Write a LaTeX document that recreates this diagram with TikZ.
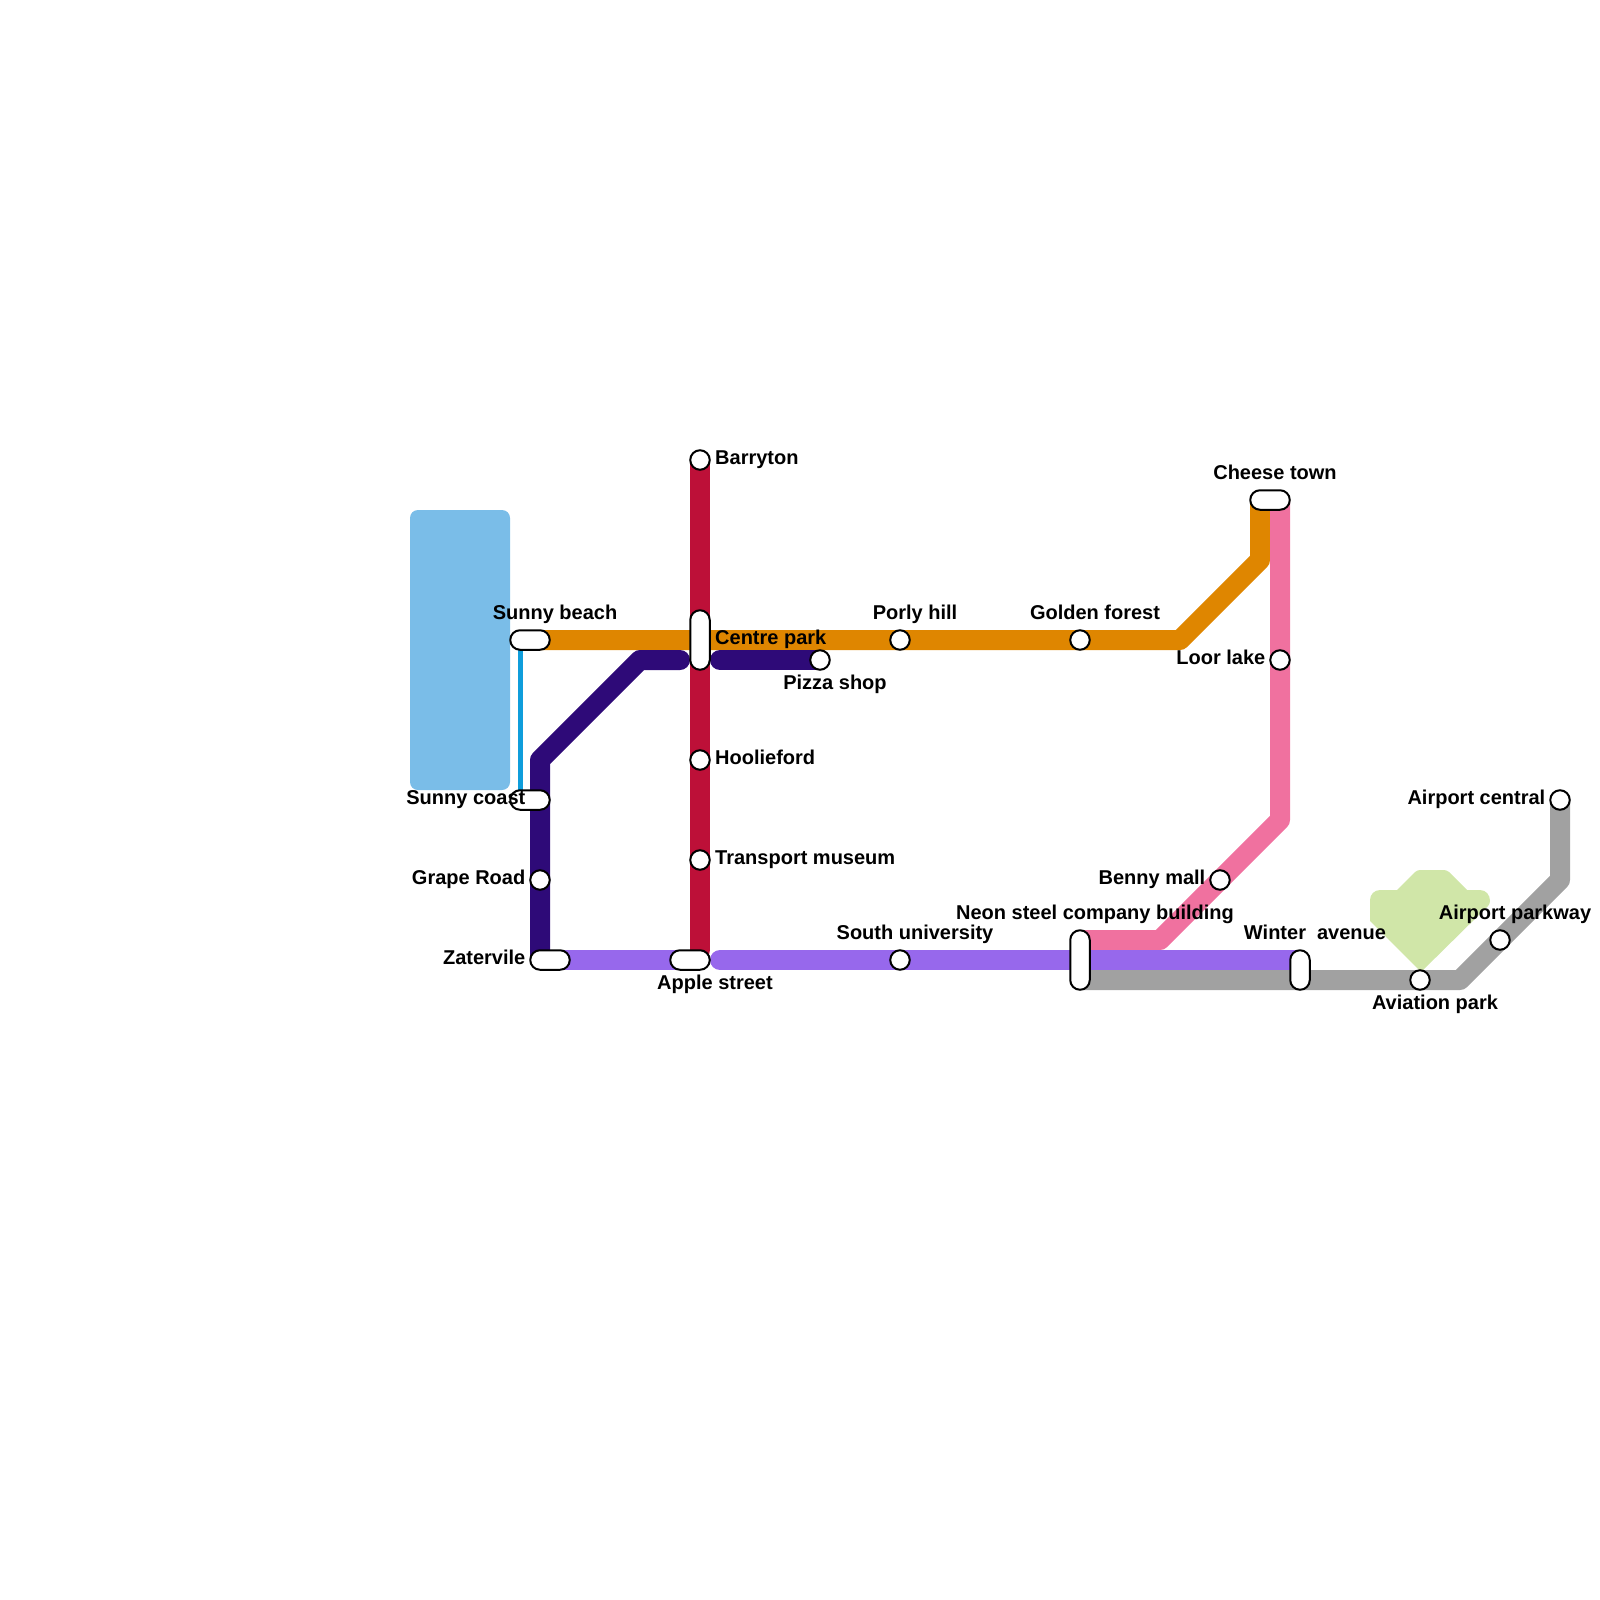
\documentclass[tikz,border=0pt]{standalone}
\usepackage{fontspec}
\setmainfont{Liberation Sans}
\usetikzlibrary{backgrounds}
\definecolor{lakeblue}{HTML}{7ABDE8}
\definecolor{parkgreen}{HTML}{D0E6A8}
\definecolor{cyanline}{HTML}{0F9DDB}
\definecolor{orangeline}{HTML}{DF8600}
\definecolor{redline}{HTML}{BD1038}
\definecolor{darkline}{HTML}{2E0A78}
\definecolor{purpleline}{HTML}{9768EC}
\definecolor{pinkline}{HTML}{F0719F}
\definecolor{greyline}{HTML}{A1A1A1}
\tikzset{
  x=1pt,y=-1pt,
  route/.style={line width=20pt,line cap=round,line join=round},
  stop/.style={circle,draw=black,fill=white,line width=2pt,minimum size=19.5pt,inner sep=0pt},
  pillh/.style={rectangle,rounded corners=9.7pt,draw=black,fill=white,line width=2pt,minimum width=39.5pt,minimum height=19.5pt,inner sep=0pt},
  pillv/.style={pillh,minimum width=19.5pt,minimum height=#1},
  lbl/.style={font=\fontsize{20}{24}\selectfont\bfseries,inner sep=0pt,text=black,yshift=0.3pt},
  lblc/.style={lbl,anchor=base},
  lbll/.style={lbl,anchor=base west},
  lblr/.style={lbl,anchor=base east}
}
\begin{document}
\begin{tikzpicture}
\useasboundingbox (0,0) rectangle (1600,1600);
% stations
\node[pillh] (sunnybeach) at (530,640) {};
\node[pillh] (sunnycoast) at (530,800) {};
\node[pillh] (zatervile) at (550,960) {};
\node[pillh] (apple) at (690,960) {};
\node[pillh] (cheese) at (1270,500) {};
\node[pillv=59.5pt] (centre) at (700,640) {};
\node[pillv=59.5pt] (neon) at (1080,960) {};
\node[pillv=39.5pt] (winter) at (1300,970) {};
\node[stop] (barryton) at (700,460) {};
\node[stop] (hoolieford) at (700,760) {};
\node[stop] (transport) at (700,860) {};
\node[stop] (grape) at (540,880) {};
\node[stop] (pizza) at (820,660) {};
\node[stop] (porly) at (900,640) {};
\node[stop] (golden) at (1080,640) {};
\node[stop] (loor) at (1280,660) {};
\node[stop] (benny) at (1220,880) {};
\node[stop] (south) at (900,960) {};
\node[stop] (aviation) at (1420,980) {};
\node[stop] (parkway) at (1500,940) {};
\node[stop] (central) at (1560,800) {};
\coordinate (cyantop) at (520,640);
\coordinate (cyanend) at (520,800);
\coordinate (redend) at (700,950);
\coordinate (purplestart) at (720,960);
\coordinate (purpleend) at (1300,960);
\coordinate (pinkend) at (1080,940);
\coordinate (greystart) at (1080,980);
\coordinate (darkstart) at (540,960);
\coordinate (darkend) at (680,660);
\coordinate (darkstart2) at (720,660);
\begin{scope}[on background layer]
  \fill[lakeblue,rounded corners=8pt] (410,510) rectangle (510,790);
  \fill[parkgreen]
    (1421,972) -- (1370,921) [rounded corners=10pt] -- (1370,890) [sharp corners] -- (1397,890) [rounded corners=3pt] -- (1417,870) -- (1447,870) [sharp corners] -- (1467,890) -- (1480,890) .. controls (1486,890) and (1490,895) .. (1490,901) .. controls (1490,903) and (1489,905) .. (1488,906) -- cycle;
  \draw[cyanline,line width=5pt] (cyantop) -- (cyanend);
  \draw[route,orangeline] (sunnybeach.center) -- (golden.center) -- (1180,640) -- (1260,560) -- (1260,500);
  \draw[route,pinkline] (1280,500) -- (1280,820) -- (1160,940) -- (pinkend);
  \draw[route,greyline] (greystart) -- (1460,980) -- (1560,880) -- (central.center);
  \draw[route,purpleline] (zatervile.center) -- (apple.center);
  \draw[route,purpleline] (purplestart) -- (purpleend);
  \draw[route,redline] (barryton.center) -- (redend);
  \draw[route,darkline] (darkstart) -- (540,760) -- (640,660) -- (darkend);
  \draw[route,darkline] (darkstart2) -- (pizza.center);
\end{scope}
% labels
\node[lblc] (l1) at (555,620) {Sunny beach};
\node[lblr] (l2) at (525.5,805) {Sunny coast};
\node[lblr] (l3) at (525.5,885) {Grape Road};
\node[lblr] (l4) at (525.5,965) {Zatervile};
\node[lblc] (l5) at (715,990) {Apple street};
\node[lbll] (l6) at (715,465) {Barryton};
\node[lbll] (l7) at (715,645) {Centre park};
\node[lbll] (l8) at (715,765) {Hoolieford};
\node[lbll] (l9) at (715,865) {Transport museum};
\node[lblc] (l10) at (835,690) {Pizza shop};
\node[lblc] (l11) at (915,620) {Porly hill};
\node[lblc] (l12) at (1095,620) {Golden forest};
\node[lblc] (l13) at (915,940) {South university};
\node[lblc] (l14) at (1095,920) {Neon steel company building};
\node[lblc] (l15) at (1275,480) {Cheese town};
\node[lblr] (l16) at (1265.5,665) {Loor lake};
\node[lblr] (l17) at (1205.5,885) {Benny mall};
\node[lblc] (l18) at (1315,940) {Winter\ \ avenue};
\node[lblc] (l19) at (1435,1010) {Aviation park};
\node[lblc] (l20) at (1515,920) {Airport parkway};
\node[lblr] (l21) at (1545.5,805) {Airport central};
\end{tikzpicture}
\end{document}
